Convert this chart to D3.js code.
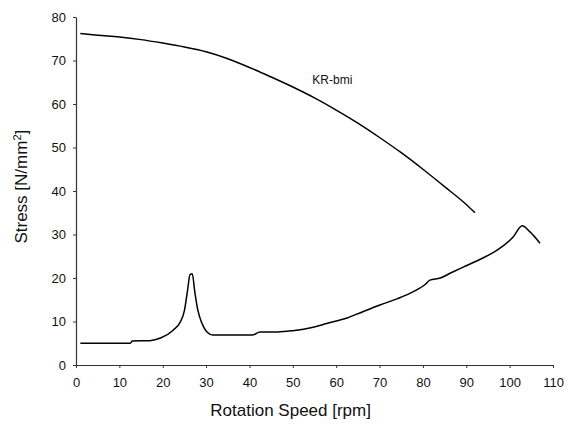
<!DOCTYPE html>
<html lang="en">
<head>
<meta charset="UTF-8">
<title>Stress vs Rotation Speed</title>
<script src="https://d3js.org/d3.v7.min.js"></script>
<style>
    body { margin: 0; background: #fff; }
    text { font-family: "Liberation Sans", Arial, sans-serif; fill: #111; }
    .axis path, .axis line { stroke: #333; }
    .axis text { font-size: 13px; }
</style>
</head>
<body>
<script>
    // Upper curve (labelled KR-bmi)
    const upperX = [1, 5, 10, 15, 20, 25, 30, 35, 40, 45, 50, 55, 60, 65, 70, 75, 80, 85, 90, 92];
    const upperY = [76.2, 75.8, 75.4, 74.8, 74.0, 73.1, 72.0, 70.4, 68.4, 66.2, 63.9, 61.4, 58.6, 55.6, 52.3, 48.8, 45.0, 41.0, 36.9, 35.0];

    // Lower curve with resonance peak
    const lowerX = [1, 5, 10, 12.5, 13, 17, 19.5, 22.4, 24, 25, 25.7, 26.3, 26.8, 27.4, 28.1, 29, 30.2, 31.6, 36, 40.8, 42.4, 46.6, 50, 54.7, 58, 62.5, 66, 70.1, 74, 77.7, 80.5, 81.6, 84, 86.5, 89.3, 93, 97.1, 100.8, 102.9, 104.7, 107];
    const lowerY = [5.0, 5.0, 5.0, 5.0, 5.5, 5.6, 6.2, 8.0, 9.8, 12.5, 17.0, 20.8, 21.0, 16.8, 12.6, 9.7, 7.6, 6.9, 6.9, 6.9, 7.6, 7.6, 7.9, 8.7, 9.6, 10.8, 12.2, 13.8, 15.2, 16.8, 18.5, 19.5, 20.0, 21.2, 22.5, 24.2, 26.4, 29.4, 32.0, 30.6, 28.0];

    const xTicks = [0, 10, 20, 30, 40, 50, 60, 70, 80, 90, 100, 110];
    const yTicks = [0, 10, 20, 30, 40, 50, 60, 70, 80];

    const width = 568, height = 431;
    const margin = {top: 17, right: 15, bottom: 66, left: 76};

    const svg = d3.select("body")
        .append("svg")
        .attr("width", width)
        .attr("height", height);

    const x = d3.scaleLinear().domain([0, 110]).range([margin.left, width - margin.right]);
    const y = d3.scaleLinear().domain([0, 80]).range([height - margin.bottom, margin.top]);

    // axes
    svg.append("g")
        .attr("class", "axis")
        .attr("transform", `translate(0,${height - margin.bottom})`)
        .call(d3.axisBottom(x).tickValues(xTicks).tickSize(3).tickSizeOuter(0).tickPadding(10))
        .call(g => g.select(".domain").attr("stroke-width", 1.2));

    svg.append("g")
        .attr("class", "axis")
        .attr("transform", `translate(${margin.left},0)`)
        .call(d3.axisLeft(y).tickValues(yTicks).tickSize(3).tickSizeOuter(0).tickPadding(7))
        .call(g => g.select(".domain").attr("stroke-width", 1.2));

    // curves
    const line = d3.line()
        .x(d => x(d[0]))
        .y(d => y(d[1]))
        .curve(d3.curveMonotoneX);

    svg.append("path")
        .datum(d3.zip(upperX, upperY))
        .attr("fill", "none")
        .attr("stroke", "#000")
        .attr("stroke-width", 1.5)
        .attr("d", line);

    svg.append("path")
        .datum(d3.zip(lowerX, lowerY))
        .attr("fill", "none")
        .attr("stroke", "#000")
        .attr("stroke-width", 1.5)
        .attr("d", line);

    // curve label
    svg.append("text")
        .attr("x", x(54.5))
        .attr("y", y(64.5))
        .attr("font-size", 12)
        .text("KR-bmi");

    // axis titles
    svg.append("text")
        .attr("x", x(49.5))
        .attr("y", 416)
        .attr("text-anchor", "middle")
        .attr("font-size", 17)
        .text("Rotation Speed [rpm]");

    const yTitle = svg.append("text")
        .attr("transform", `translate(27,${y(41)}) rotate(-90)`)
        .attr("text-anchor", "middle")
        .attr("font-size", 17);
    yTitle.append("tspan").text("Stress [N/mm");
    yTitle.append("tspan").attr("dy", -6).attr("font-size", 11).text("2");
    yTitle.append("tspan").attr("dy", 6).text("]");
</script>
</body>
</html>
